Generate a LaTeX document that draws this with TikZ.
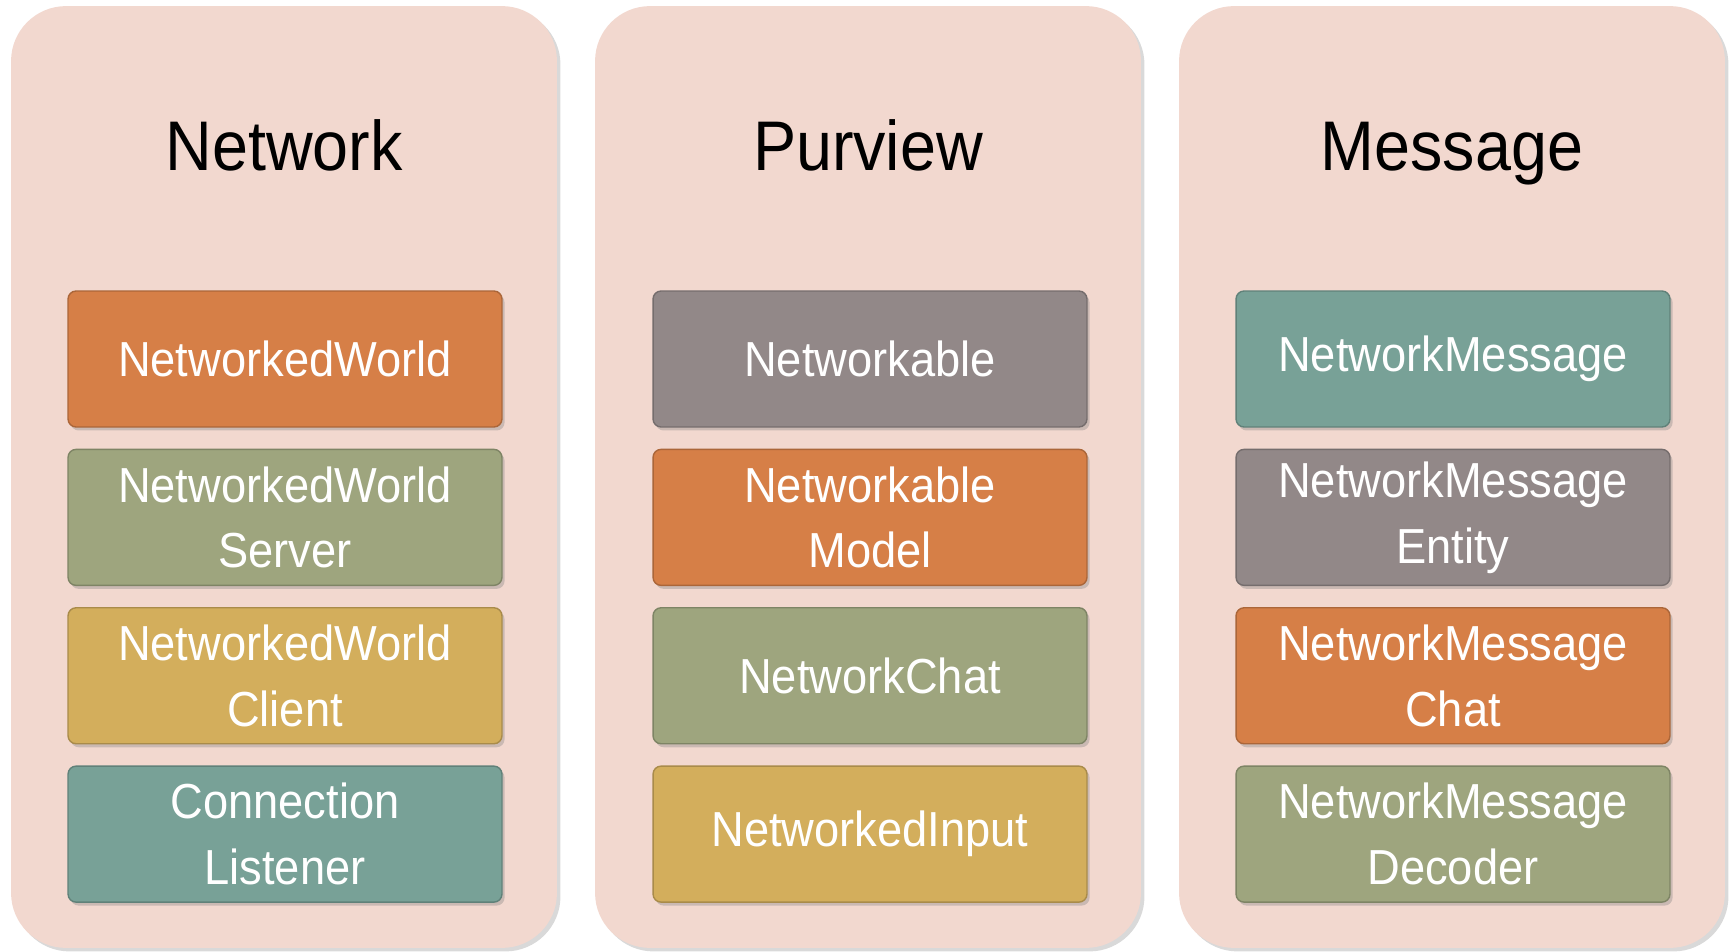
\documentclass[tikz,border=0pt]{standalone}
\usepackage{fontspec}
\setmainfont{Liberation Sans}[FakeStretch=0.92]
\usepackage{tikz}
\usetikzlibrary{positioning,shadows}
\definecolor{panelpink}{RGB}{242,216,207}
\definecolor{boxorange}{RGB}{214,127,71}
\definecolor{boxolive}{RGB}{158,165,126}
\definecolor{boxgold}{RGB}{211,174,92}
\definecolor{boxteal}{RGB}{120,161,151}
\definecolor{boxgray}{RGB}{146,136,136}
\tikzset{
	panel/.style={fill=panelpink, rounded corners=1.1cm, minimum width=10.92cm, minimum height=18.84cm, inner sep=0pt,
		drop shadow={shadow xshift=2pt, shadow yshift=-2pt, opacity=0.3}},
	paneltitle/.style={anchor=base, font=\fontsize{40}{48}\selectfont},
	item/.style={rounded corners=0.16cm, minimum width=8.68cm, minimum height=2.72cm, inner sep=0pt,
		text=white, align=center, line width=0.8pt, font=\fontsize{28}{37.5}\selectfont,
		drop shadow={shadow xshift=1.5pt, shadow yshift=-2pt, opacity=0.35}},
	orangebox/.style={item, fill=boxorange, draw=boxorange!80!black},
	olivebox/.style={item, fill=boxolive, draw=boxolive!80!black},
	goldbox/.style={item, fill=boxgold, draw=boxgold!80!black},
	tealbox/.style={item, fill=boxteal, draw=boxteal!80!black},
	graybox/.style={item, fill=boxgray, draw=boxgray!80!black}
}
\begin{document}
\begin{tikzpicture}[x=0.02cm, y=-0.02cm]
		\useasboundingbox (0,0) rectangle (1731,952);
		\node (netpanel) at (284,477)[panel]{};
		\node (purpanel) at (868,477)[panel]{};
		\node (msgpanel) at (1452,477)[panel]{};

		\node (nettitle) at (284,171)[paneltitle]{Network};
		\node (purtitle) at (868,171)[paneltitle]{Purview};
		\node (msgtitle) at (1452,171)[paneltitle]{Message};

		\node (nworld) at (285,359)[orangebox]{NetworkedWorld};
		\node (nserver) [olivebox, below=0.42cm of nworld]{NetworkedWorld\\Server};
		\node (nclient) [goldbox, below=0.42cm of nserver]{NetworkedWorld\\Client};
		\node (nlistener) [tealbox, below=0.42cm of nclient]{Connection\\Listener};

		\node (pable) at (870,359)[graybox]{Networkable};
		\node (pmodel) [orangebox, below=0.42cm of pable]{Networkable\\Model};
		\node (pchat) [olivebox, below=0.42cm of pmodel]{NetworkChat};
		\node (pinput) [goldbox, below=0.42cm of pchat]{NetworkedInput};

		\node (mmsg) at (1453,359)[tealbox]{NetworkMessage};
		\node (mentity) [graybox, below=0.42cm of mmsg]{NetworkMessage\\Entity};
		\node (mchat) [orangebox, below=0.42cm of mentity]{NetworkMessage\\Chat};
		\node (mdecoder) [olivebox, below=0.42cm of mchat]{NetworkMessage\\Decoder};
	\end{tikzpicture}
\end{document}
